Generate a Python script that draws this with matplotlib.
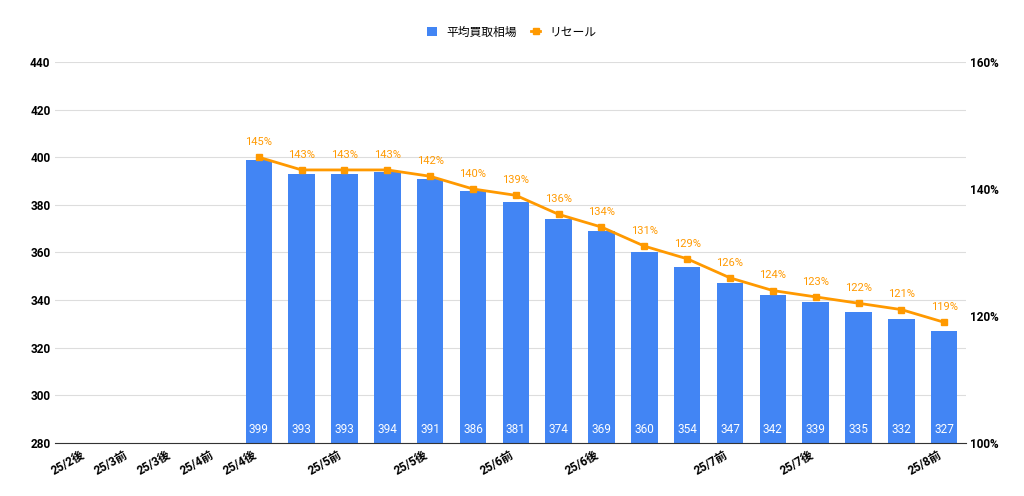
import numpy as np
import matplotlib.pyplot as plt

plt.rcParams['font.family'] = ['Roboto', 'Noto Sans CJK JP']

# categories (blank = unlabeled tick)
tick_labels = ['25/2後', '25/3前', '25/3後', '25/4前', '25/4後', '', '25/5前', '', '25/5後', '',
               '25/6前', '', '25/6後', '', '', '25/7前', '', '25/7後', '', '', '25/8前']
buy_price = [None, None, None, None, 399, 393, 393, 394, 391, 386, 381, 374, 369, 360,
             354, 347, 342, 339, 335, 332, 327]
resale_pct = [None, None, None, None, 145, 143, 143, 143, 142, 140, 139, 136, 134, 131,
              129, 126, 124, 123, 122, 121, 119]

BLUE = '#4285F4'
ORANGE = '#FF9900'

x = np.arange(len(tick_labels))
idx = [i for i, v in enumerate(buy_price) if v is not None]
bars = [buy_price[i] for i in idx]
pcts = [resale_pct[i] for i in idx]

fig = plt.figure(figsize=(10.24, 4.96), dpi=100)
ax = fig.add_axes([0.054, 0.107, 0.889, 0.768])
ax2 = ax.twinx()

ax.bar(idx, bars, width=0.62, color=BLUE, label='平均買取相場', zorder=2)
for i, v in zip(idx, bars):
    ax.text(i, 283, str(v), color='white', ha='center', va='bottom', fontsize=8.5, zorder=3)

ax.set_ylim(280, 440)
ax.set_yticks(range(280, 441, 20))
ax.set_xlim(-0.75, len(x) - 0.5)
ax.set_xticks(x)
ax.set_xticklabels(tick_labels, rotation=30, ha='right', fontsize=8.5, fontweight='bold')
ax.tick_params(axis='both', length=0, labelsize=8.5)
for lab in ax.get_yticklabels():
    lab.set_fontweight('bold')
ax.grid(axis='y', color='#dddddd', linewidth=0.8, zorder=0)
ax.set_axisbelow(True)
for s in ax.spines.values():
    s.set_visible(False)
ax.spines['bottom'].set_visible(True)
ax.spines['bottom'].set_color('#333333')

ax2.plot(idx, pcts, color=ORANGE, linewidth=2, marker='s', markersize=5, label='リセール', zorder=4)
for i, v in zip(idx, pcts):
    ax2.text(i, v + 1.6, f'{v}%', color=ORANGE, ha='center', va='bottom', fontsize=8)
ax2.set_ylim(100, 160)
ax2.set_yticks([100, 120, 140, 160])
ax2.set_yticklabels(['100%', '120%', '140%', '160%'], fontsize=8.5, fontweight='bold')
ax2.tick_params(length=0)
for s in ax2.spines.values():
    s.set_visible(False)

h1, l1 = ax.get_legend_handles_labels()
h2, l2 = ax2.get_legend_handles_labels()
fig.legend(h1 + h2, l1 + l2, loc='upper center', bbox_to_anchor=(0.5, 0.97), ncol=2,
           frameon=False, fontsize=8.5, handlelength=0.8, columnspacing=1.2)

fig.savefig('out.png')
